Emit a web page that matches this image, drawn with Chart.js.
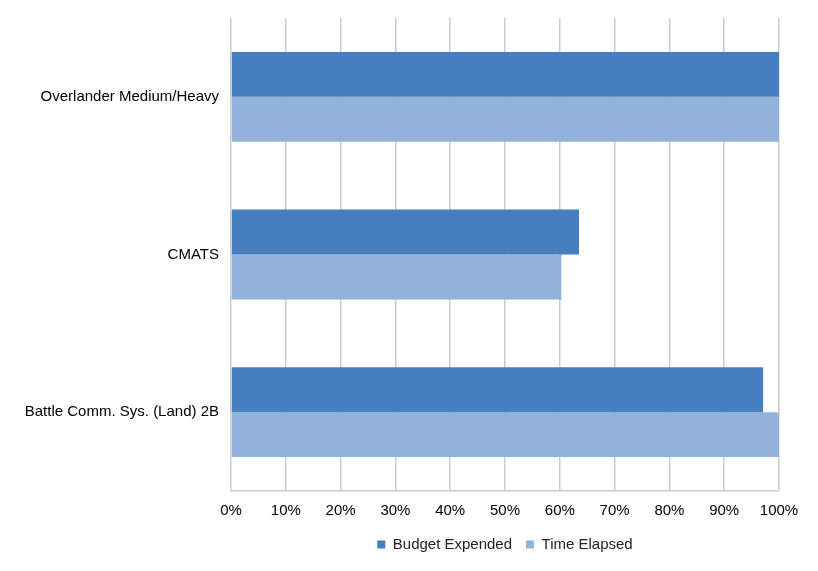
<!DOCTYPE html>
<html>
<head>
<meta charset="utf-8">
<script src="https://cdn.jsdelivr.net/npm/chart.js@4/dist/chart.umd.min.js"></script>
<style>
  html, body { margin: 0; padding: 0; background: #fff; }
  #wrap { width: 818px; height: 571px; }
</style>
</head>
<body>
<div id="wrap"><canvas id="chart" width="818" height="571"></canvas></div>
<script>
// values (percent)
const categories = ["Overlander Medium/Heavy", "CMATS", "Battle Comm. Sys. (Land) 2B"]
const budgetExpended = [100, 63.5, 97.1]
const timeElapsed = [100, 60.3, 100]
const seriesNames = ["Budget Expended", "Time Elapsed"]

const gridColor = "#cccccc"
Chart.defaults.font.family = "'Liberation Sans', Arial, sans-serif"
Chart.defaults.font.size = 15
Chart.defaults.color = "#000"

// the legend sits centred under the plot area, not the canvas, and a bit higher
const moveLegend = {
    id: "moveLegend",
    afterLayout(chart) {
        const lg = chart.legend
        const shift = (chart.chartArea.left + chart.chartArea.right) / 2 - (lg.left + lg.right) / 2
        lg.left += shift
        lg.right += shift
        lg.top -= 8
        lg.bottom -= 8
    }
}

let ctx = document.getElementById("chart").getContext("2d")
let chart = new Chart(ctx, {
    type: "bar",
    data: {
        labels: categories,
        datasets: [
            {
                label: seriesNames[0],
                data: budgetExpended,
                backgroundColor: "#477ebf",
                borderWidth: 0,
            },
            {
                label: seriesNames[1],
                data: timeElapsed,
                backgroundColor: "#91b2da",
                borderWidth: 0,
            }
        ],
    },
    options: {
        indexAxis: "y",
        responsive: false,
        animation: false,
        categoryPercentage: 0.57,
        barPercentage: 1,
        layout: {
            padding: { top: 18, right: 39, left: 0, bottom: 1 }
        },
        scales: {
            x: {
                min: 0,
                max: 100,
                ticks: {
                    stepSize: 10,
                    padding: 11,
                    callback: (v) => v + "%"
                },
                grid: {
                    color: gridColor,
                    lineWidth: 1.5,
                    drawTicks: false,
                },
                border: { display: true, color: gridColor, width: 1.5 }
            },
            y: {
                grid: { display: false, drawTicks: false },
                border: { display: false },
                ticks: { padding: 12, font: { lineHeight: 0.6 } },
                afterFit: (scale) => { scale.width = 231 }
            }
        },
        plugins: {
            legend: {
                position: "bottom",
                labels: {
                    boxWidth: 8,
                    boxHeight: 8,
                    padding: 14,
                    color: "#222"
                }
            },
            tooltip: { enabled: false }
        }
    },
    plugins: [moveLegend]
})
</script>
</body>
</html>
